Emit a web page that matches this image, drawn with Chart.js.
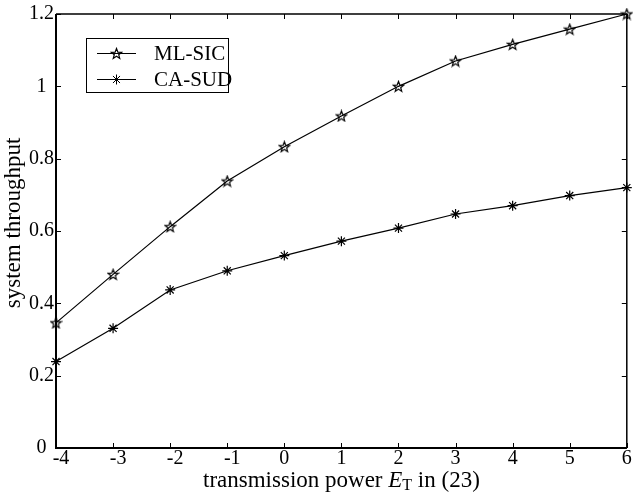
<!DOCTYPE html>
<html>
<head>
<meta charset="utf-8">
<script src="https://cdn.jsdelivr.net/npm/chart.js@4/dist/chart.umd.min.js"></script>
<style>
html, body { margin: 0; padding: 0; background: #fff; }
</style>
</head>
<body>
<canvas id="c" width="633" height="492"></canvas>
<script>
// values
const powerLevels = [-4, -3, -2, -1, 0, 1, 2, 3, 4, 5, 6];
const mlSic = [0.346, 0.480, 0.612, 0.738, 0.833, 0.918, 1.000, 1.070, 1.116, 1.158, 1.200];
const caSud = [0.239, 0.331, 0.437, 0.490, 0.532, 0.572, 0.608, 0.647, 0.670, 0.698, 0.720];
const seriesNames = ['ML-SIC', 'CA-SUD'];
const yTicks = [0, 0.2, 0.4, 0.6, 0.8, 1, 1.2];

const FONT = "'Liberation Serif', 'Times New Roman', serif";

function pentagram(size) {
    let c = document.createElement('canvas');
    c.width = c.height = size;
    let g = c.getContext('2d');
    let cx = size / 2, cy = size / 2 + 0.5, R = size / 2 - 1, r = R * 0.42;
    g.beginPath();
    for (let i = 0; i < 10; i++) {
        let a = -Math.PI / 2 + i * Math.PI / 5;
        let rad = i % 2 ? r : R;
        g.lineTo(cx + rad * Math.cos(a), cy + rad * Math.sin(a));
    }
    g.closePath();
    g.lineWidth = 1.2;
    g.strokeStyle = '#000';
    g.stroke();
    return c;
}
const starImg = pentagram(13);
const markers = [starImg, 'star'];

// frame with inward ticks on all four sides, x title and legend
const framePlugin = {
    id: 'frame',
    afterDraw(chart) {
        let {ctx, chartArea: a, scales: {x, y}} = chart;
        ctx.save();
        ctx.strokeStyle = '#000';
        ctx.lineWidth = 1;
        ctx.beginPath();
        x.ticks.forEach(t => {
            let px = Math.round(x.getPixelForValue(t.value)) + 0.5;
            ctx.moveTo(px, a.bottom); ctx.lineTo(px, a.bottom - 5);
            ctx.moveTo(px, a.top); ctx.lineTo(px, a.top + 5);
        });
        y.ticks.forEach(t => {
            let py = Math.round(y.getPixelForValue(t.value)) + 0.5;
            ctx.moveTo(a.left, py); ctx.lineTo(a.left + 5, py);
            ctx.moveTo(a.right, py); ctx.lineTo(a.right - 5, py);
        });
        ctx.stroke();
        ctx.lineWidth = 1.5;
        ctx.beginPath();
        ctx.moveTo(a.left, a.top); ctx.lineTo(a.right, a.top); ctx.lineTo(a.right, a.bottom);
        ctx.stroke();
        ctx.lineWidth = 2;
        ctx.beginPath();
        ctx.moveTo(a.left, a.top); ctx.lineTo(a.left, a.bottom); ctx.lineTo(a.right, a.bottom);
        ctx.stroke();

        // x axis title with italic E and subscript T
        let parts = [
            {t: 'transmission power ', f: '23px ' + FONT, dy: 0},
            {t: 'E', f: 'italic 23px ' + FONT, dy: 0},
            {t: 'T', f: '16px ' + FONT, dy: 3},
            {t: ' in (23)', f: '23px ' + FONT, dy: 0},
        ];
        let total = 0;
        parts.forEach(p => { ctx.font = p.f; p.w = ctx.measureText(p.t).width; total += p.w; });
        let tx = (a.left + a.right) / 2 - total / 2;
        ctx.fillStyle = '#000';
        ctx.textBaseline = 'alphabetic';
        ctx.textAlign = 'left';
        parts.forEach(p => { ctx.font = p.f; ctx.fillText(p.t, tx, 487 + p.dy); tx += p.w; });

        // legend
        ctx.lineWidth = 1;
        ctx.strokeRect(86.5, 38.5, 142, 54);
        ctx.font = '21px ' + FONT;
        ctx.textBaseline = 'middle';
        seriesNames.forEach((name, i) => {
            let ly = 53.5 + i * 26;
            ctx.beginPath();
            ctx.moveTo(97, ly); ctx.lineTo(136, ly);
            ctx.stroke();
            Chart.helpers.drawPoint(ctx, {pointStyle: markers[i], radius: 5, borderWidth: 1.2}, 116.5, ly);
            ctx.fillText(name, 154, ly + 1);
        });
        ctx.restore();
    }
};

function makeSeries(label, values, marker) {
    return {
        label: label,
        data: powerLevels.map((p, i) => ({x: p, y: values[i]})),
        borderColor: '#000',
        borderWidth: 1.2,
        pointStyle: marker,
        pointRadius: 5,
        pointBorderColor: '#000',
        pointBorderWidth: 1.2,
        pointBackgroundColor: 'rgba(0,0,0,0)',
        tension: 0,
        fill: false,
        clip: false,
    };
}

new Chart(document.getElementById('c'), {
    type: 'line',
    data: {
        datasets: [
            makeSeries(seriesNames[0], mlSic, starImg),
            makeSeries(seriesNames[1], caSud, 'star'),
        ],
    },
    options: {
        responsive: false,
        animation: false,
        layout: { padding: { top: 14, right: 2, left: 0, bottom: 0 } },
        plugins: {
            legend: { display: false },
            tooltip: { enabled: false },
        },
        scales: {
            x: {
                type: 'linear',
                min: powerLevels[0],
                max: powerLevels[powerLevels.length - 1],
                afterBuildTicks: scale => { scale.ticks = powerLevels.map(v => ({value: v})); },
                afterFit: scale => { scale.height = 44; scale.paddingRight = 2; },
                grid: { display: false, drawTicks: false },
                border: { display: false },
                ticks: {
                    padding: 0,
                    maxRotation: 0,
                    autoSkip: false,
                    color: '#000',
                    font: { family: FONT, size: 20, lineHeight: 1.1 },
                    callback: v => (v < 0 ? '\u2002' : '') + v,
                },
            },
            y: {
                type: 'linear',
                min: yTicks[0],
                max: yTicks[yTicks.length - 1],
                afterBuildTicks: scale => { scale.ticks = yTicks.map(v => ({value: v})); },
                afterFit: scale => { scale.width = 56; },
                grid: { display: false, drawTicks: false },
                border: { display: false },
                ticks: {
                    padding: 2,
                    crossAlign: 'center',
                    color: '#000',
                    font: { family: FONT, size: 20 },
                    callback: v => String(Number(v.toFixed(1))),
                },
                title: {
                    display: true,
                    text: '\u2002\u2009system throughput',
                    color: '#000',
                    font: { family: FONT, size: 23 },
                    padding: { top: 0, bottom: 0 },
                },
            },
        },
    },
    plugins: [framePlugin],
});
</script>
</body>
</html>
